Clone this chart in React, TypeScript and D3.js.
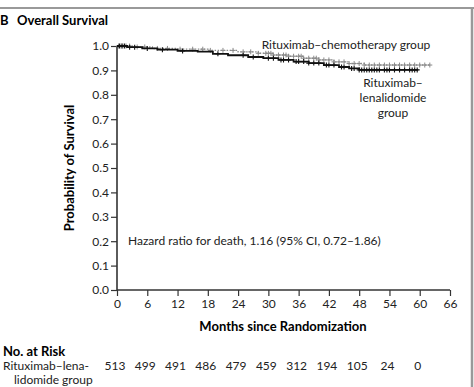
import React, { useEffect, useRef } from 'react';
import * as d3 from 'd3';

// Kaplan-Meier steps
const lenaMonths = [0, 2, 5, 8, 12, 16, 19, 22, 26, 29, 32, 35, 38, 41, 44, 46, 48, 59.7];
const lenaSurv = [1.0, 0.995, 0.99, 0.985, 0.98, 0.977, 0.968, 0.962, 0.955, 0.95, 0.943, 0.936, 0.93, 0.922, 0.914, 0.908, 0.902, 0.902];
const chemoMonths = [0, 3, 7, 12, 18, 24, 28, 31, 34, 37, 40, 43, 46, 49, 62.2];
const chemoSurv = [1.0, 0.996, 0.99, 0.987, 0.982, 0.976, 0.97, 0.963, 0.958, 0.95, 0.943, 0.935, 0.928, 0.922, 0.922];

// censored observations (months)
const lenaCensor = [0.5, 1, 1.5, 2.5, 3.5, 6, 9, 13, 20, 25, 27, 30, 31, 32.5, 33, 34, 35.5, 36, 37, 38, 39, 40, 41.5, 42, 43, 44.5, 45, 46.5, 47, 48, 48.5, 49, 49.5, 50, 50.5, 51, 51.5, 52, 53, 53.5, 54, 55, 56, 57, 58, 58.5, 59, 59.5];
const chemoCensor = [0.3, 0.8, 1.2, 1.8, 2.5, 4, 5.5, 8, 10, 12.5, 15, 17, 18.5, 21, 23, 25, 26.5, 28, 29.5, 30, 30.5, 31, 32, 33, 33.5, 34, 35, 36, 36.5, 37, 38, 39, 39.5, 40, 41, 42, 43, 44, 45, 46, 47, 48, 49, 50, 51, 52, 53, 54, 55, 56, 57, 58, 59, 60, 61, 62];

const xTicks = [0, 6, 12, 18, 24, 30, 36, 42, 48, 54, 60, 66];
const yTicks = [0, 0.1, 0.2, 0.3, 0.4, 0.5, 0.6, 0.7, 0.8, 0.9, 1.0];
const riskMonths = [0, 6, 12, 18, 24, 30, 36, 42, 48, 54, 60];
const riskLena = [513, 499, 491, 486, 479, 459, 312, 194, 105, 24, 0];

const App = () => {
  const ref = useRef<SVGSVGElement | null>(null);

  useEffect(() => {
    const W = 474;
    const H = 387;
    const font = 'Lato, "Open Sans", sans-serif';
    const svg = d3.select(ref.current);
    svg.selectAll('*').remove();
    svg.style('font-family', font);

    const x = d3.scaleLinear().domain([0, 66]).range([117, 450]);
    const y = d3.scaleLinear().domain([0, 1]).range([290, 46]);

    // frame
    svg.append('line').attr('x1', 0).attr('x2', W).attr('y1', 8).attr('y2', 8)
      .attr('stroke', '#999').attr('stroke-width', 2);
    svg.append('line').attr('x1', 472).attr('x2', 472).attr('y1', 8).attr('y2', H)
      .attr('stroke', '#999').attr('stroke-width', 2.5);

    // title
    svg.append('text').attr('x', 0).attr('y', 25).style('font-size', '13px').style('font-weight', 'bold')
      .text('B');
    svg.append('text').attr('x', 17).attr('y', 25).style('font-size', '13px').style('font-weight', 'bold')
      .text('Overall Survival');

    // axes
    const yAxis = svg.append('g').attr('transform', 'translate(117,0)')
      .call(d3.axisLeft(y).tickValues(yTicks).tickFormat(d3.format('.1f')).tickSize(6).tickPadding(2));
    const xAxis = svg.append('g').attr('transform', 'translate(0,290)')
      .call(d3.axisBottom(x).tickValues(xTicks).tickSize(6).tickPadding(3));
    [yAxis, xAxis].forEach(g => {
      g.select('.domain').attr('stroke', '#333').attr('stroke-width', 1.6);
      g.selectAll('.tick line').attr('stroke', '#333').attr('stroke-width', 1.2);
      g.selectAll('.tick text').attr('fill', '#222').style('font-size', '12px').style('font-family', font);
    });
    xAxis.select('.domain').attr('d', `M${x(0)},0H${x(66)}`);
    yAxis.select('.domain').attr('d', `M0,${y(1)}V${y(0)}`);

    // axis titles
    svg.append('text').attr('transform', `translate(74,${168}) rotate(-90)`).attr('text-anchor', 'middle')
      .style('font-size', '13px').style('font-weight', 'bold').text('Probability of Survival');
    svg.append('text').attr('x', 283).attr('y', 331).attr('text-anchor', 'middle')
      .style('font-size', '13px').style('font-weight', 'bold').text('Months since Randomization');

    // curves
    const step = d3.line<[number, number]>().x(d => x(d[0])).y(d => y(d[1])).curve(d3.curveStepAfter);
    const chemo = chemoMonths.map((m, i) => [m, chemoSurv[i]] as [number, number]);
    const lena = lenaMonths.map((m, i) => [m, lenaSurv[i]] as [number, number]);
    const survAt = (pts: [number, number][], t: number) => {
      let v = pts[0][1];
      pts.forEach(p => { if (p[0] <= t) v = p[1]; });
      return v;
    };

    svg.append('path').attr('d', step(chemo)).attr('fill', 'none').attr('stroke', '#8a8a8a')
      .attr('stroke-width', 1.4).attr('stroke-dasharray', '1.5,1.5');
    svg.append('g').selectAll('path').data(chemoCensor).enter().append('path')
      .attr('d', t => {
        const cx = x(t), cy = y(survAt(chemo, t));
        return `M${cx - 2.5},${cy}H${cx + 2.5}M${cx},${cy - 2.5}V${cy + 2.5}`;
      })
      .attr('stroke', '#8a8a8a').attr('stroke-width', 1);

    svg.append('path').attr('d', step(lena)).attr('fill', 'none').attr('stroke', '#111')
      .attr('stroke-width', 1.8);
    svg.append('g').selectAll('path').data(lenaCensor).enter().append('path')
      .attr('d', t => {
        const cx = x(t), cy = y(survAt(lena, t));
        return `M${cx - 2.5},${cy}H${cx + 2.5}M${cx},${cy - 2.5}V${cy + 2.5}`;
      })
      .attr('stroke', '#111').attr('stroke-width', 1.1);

    // curve labels
    svg.append('text').attr('x', 346).attr('y', 49).attr('text-anchor', 'middle')
      .style('font-size', '12px').attr('fill', '#222').text('Rituximab–chemotherapy group');
    const lbl = svg.append('text').attr('text-anchor', 'middle').style('font-size', '12px').attr('fill', '#222');
    ['Rituximab–', 'lenalidomide', 'group'].forEach((s, i) => {
      lbl.append('tspan').attr('x', 393).attr('y', 87 + i * 15).text(s);
    });

    svg.append('text').attr('x', 128).attr('y', 245).style('font-size', '12px').attr('fill', '#222')
      .text('Hazard ratio for death, 1.16 (95% CI, 0.72–1.86)');

    // number at risk
    svg.append('text').attr('x', 3).attr('y', 356).style('font-size', '13px').style('font-weight', 'bold')
      .text('No. at Risk');
    svg.append('text').attr('x', 3).attr('y', 370).style('font-size', '12px').attr('fill', '#222')
      .text('Rituximab–lena-');
    svg.append('text').attr('x', 14).attr('y', 384).style('font-size', '12px').attr('fill', '#222')
      .text('lidomide group');
    svg.append('g').selectAll('text').data(riskMonths).enter().append('text')
      .attr('x', d => x(d) - 2).attr('y', 370).attr('text-anchor', 'middle')
      .style('font-size', '12px').attr('fill', '#222')
      .text((d, i) => riskLena[i]);
  }, []);

  return (
    <svg ref={ref} width={474} height={387}
      style={{ position: 'absolute', left: 0, top: 0, background: '#fff' }} />
  );
};

export default App;
